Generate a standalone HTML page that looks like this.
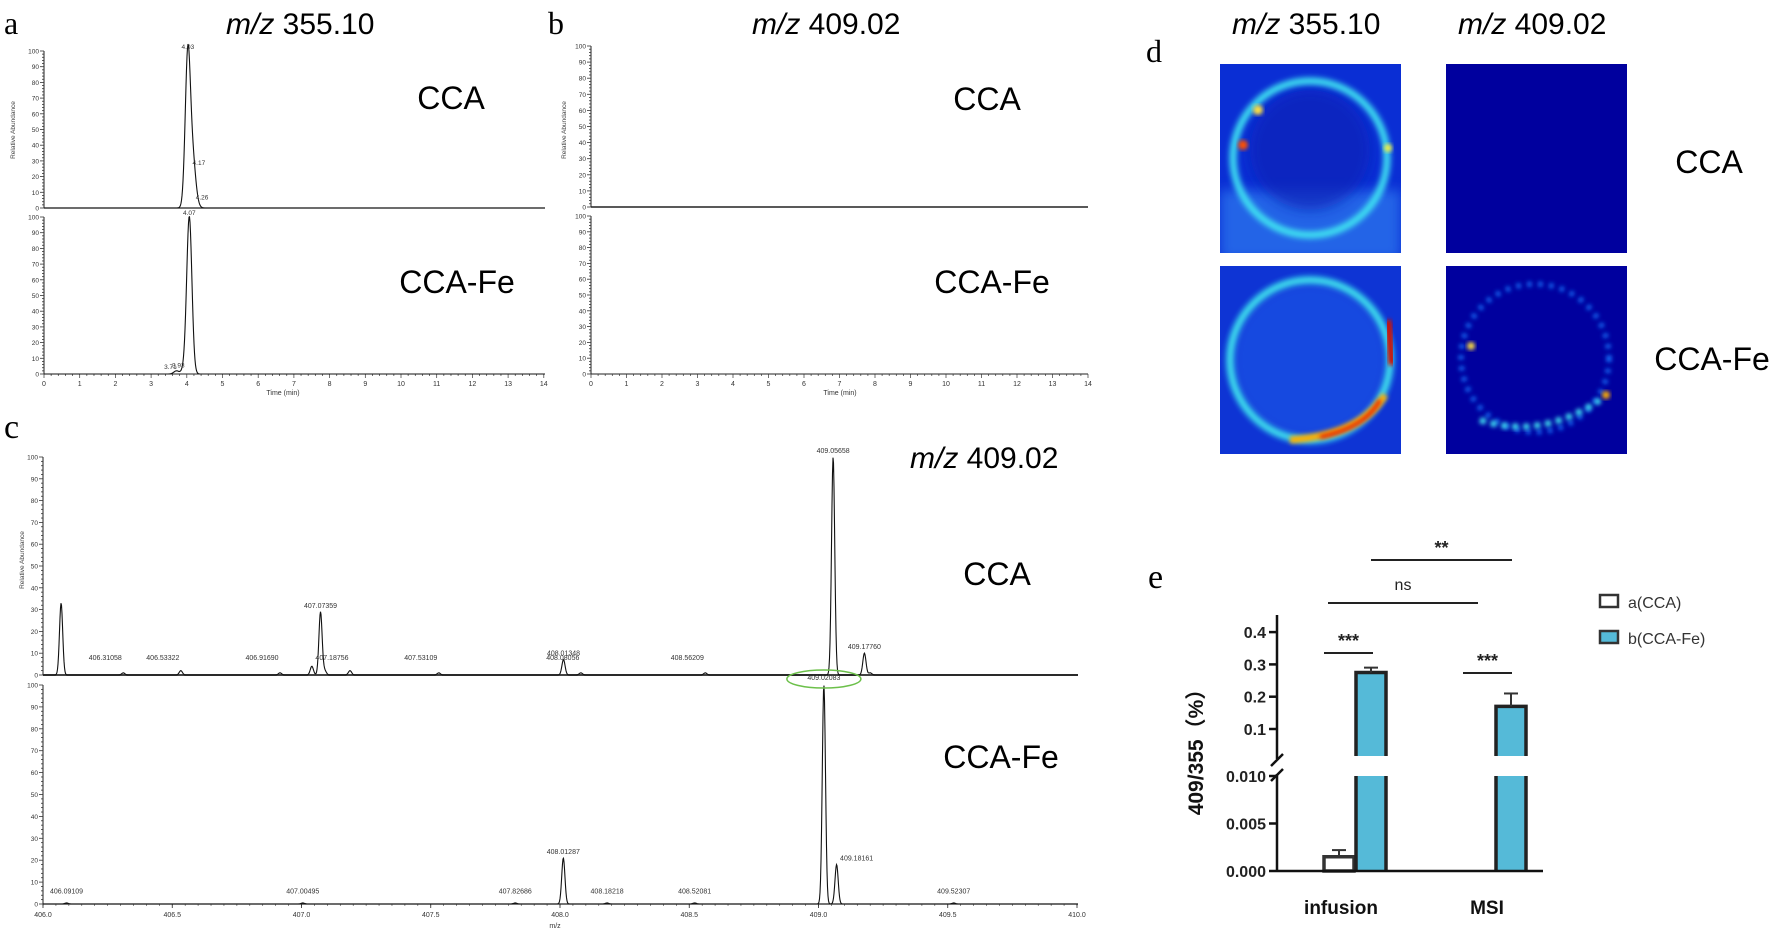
<!DOCTYPE html>
<html><head><meta charset="utf-8"><style>
html,body{margin:0;padding:0;background:#fff;}
svg{display:block;font-family:"Liberation Sans",sans-serif;}
</style></head><body>
<svg id="fig" width="1772" height="934" viewBox="0 0 1772 934" xmlns="http://www.w3.org/2000/svg">
<defs>
<filter id="b3" x="-20%" y="-20%" width="140%" height="140%"><feGaussianBlur stdDeviation="3"/></filter>
<filter id="b2" x="-20%" y="-20%" width="140%" height="140%"><feGaussianBlur stdDeviation="2"/></filter>
<filter id="b6" x="-20%" y="-20%" width="140%" height="140%"><feGaussianBlur stdDeviation="6"/></filter>
<clipPath id="c1"><rect x="1220" y="64" width="181" height="189"/></clipPath>
<clipPath id="c2"><rect x="1446" y="64" width="181" height="189"/></clipPath>
<clipPath id="c3"><rect x="1220" y="266" width="181" height="188"/></clipPath>
<clipPath id="c4"><rect x="1446" y="266" width="181" height="188"/></clipPath>
</defs>
<text x="4" y="34" font-family="Liberation Serif" font-size="32">a</text>
<text x="226" y="34" font-size="30"><tspan font-style="italic">m/z</tspan> 355.10</text>
<text x="548" y="34" font-family="Liberation Serif" font-size="32">b</text>
<text x="752" y="34" font-size="30"><tspan font-style="italic">m/z</tspan> 409.02</text>
<text x="4" y="438" font-family="Liberation Serif" font-size="34">c</text>
<text x="910" y="468" font-size="30"><tspan font-style="italic">m/z</tspan> 409.02</text>
<text x="1146" y="62" font-family="Liberation Serif" font-size="32">d</text>
<text x="1232" y="34" font-size="30"><tspan font-style="italic">m/z</tspan> 355.10</text>
<text x="1458" y="34" font-size="30"><tspan font-style="italic">m/z</tspan> 409.02</text>
<text x="1148" y="588" font-family="Liberation Serif" font-size="34">e</text>

<text x="451" y="109" font-size="32" text-anchor="middle">CCA</text>
<text x="457" y="293" font-size="32" text-anchor="middle">CCA-Fe</text>
<text x="987" y="110" font-size="32" text-anchor="middle">CCA</text>
<text x="992" y="293" font-size="32" text-anchor="middle">CCA-Fe</text>
<text x="997" y="585" font-size="32" text-anchor="middle">CCA</text>
<text x="1001" y="768" font-size="32" text-anchor="middle">CCA-Fe</text>
<text x="1709" y="173" font-size="32" text-anchor="middle">CCA</text>
<text x="1712" y="370" font-size="32" text-anchor="middle">CCA-Fe</text>

<g clip-path="url(#c1)">
<rect x="1220" y="64" width="181" height="189" fill="#0a2ed4"/>
<rect x="1220" y="190" width="181" height="70" fill="#2f7cf0" filter="url(#b6)" opacity="0.7"/>
<circle cx="1310" cy="150" r="60" fill="#0720b8" filter="url(#b6)" opacity="0.7"/>
<circle cx="1310" cy="158" r="77" fill="none" stroke="#3fe6f2" stroke-width="7" filter="url(#b3)"/>
<circle cx="1243" cy="145" r="5" fill="#ff5000" filter="url(#b2)"/>
<circle cx="1258" cy="110" r="5" fill="#ffe040" filter="url(#b2)"/>
<circle cx="1388" cy="148" r="4" fill="#f8f040" filter="url(#b2)"/>
</g>
<rect x="1446" y="64" width="181" height="189" fill="#00009e"/>
<g clip-path="url(#c3)">
<rect x="1220" y="266" width="181" height="188" fill="#0e34d4"/>
<circle cx="1310" cy="360" r="78" fill="#1848e0" filter="url(#b6)"/>
<circle cx="1310" cy="360" r="80" fill="none" stroke="#40e8ee" stroke-width="7" filter="url(#b3)"/>
<path d="M1290 440 Q1360 435 1385 395" fill="none" stroke="#ffb000" stroke-width="7" filter="url(#b2)"/>
<path d="M1320 437 Q1365 428 1380 400" fill="none" stroke="#e82000" stroke-width="4" filter="url(#b2)"/>
<path d="M1388 320 L1392 365" fill="none" stroke="#d01000" stroke-width="7" filter="url(#b2)"/>
</g>
<g clip-path="url(#c4)">
<rect x="1446" y="266" width="181" height="188" fill="#00009e"/>
<circle cx="1535" cy="358" r="74" fill="none" stroke="#1878ff" stroke-width="5" stroke-dasharray="4 7" filter="url(#b2)"/>
<path d="M1480 420 Q1540 440 1600 400" fill="none" stroke="#40e0f0" stroke-width="6" stroke-dasharray="6 5" filter="url(#b2)"/>
<path d="M1510 428 L1570 428" fill="none" stroke="#ff3000" stroke-width="3" stroke-dasharray="5 6" filter="url(#b2)"/>
<circle cx="1471" cy="346" r="4" fill="#ffe040" filter="url(#b2)"/>
<circle cx="1606" cy="395" r="4" fill="#ffb000" filter="url(#b2)"/>
</g>
<g id="dyn"></g>
</svg>
<script>
const aTopTimes = [4.03, 4.17, 4.26];
const aTopHeights = [100, 26, 4];
const aTopLabels = ["4.03", "4.17", "4.26"];
const aBotTimes = [3.71, 3.93, 4.07];
const aBotHeights = [2, 3, 100];
const aBotLabels = ["3.71", "3.93", "4.07"];
const timeTicks = [0,1,2,3,4,5,6,7,8,9,10,11,12,13,14];
const abundTicks = [0,10,20,30,40,50,60,70,80,90,100];
const cTopMz = [406.07, 406.31058, 406.53322, 406.9169, 407.04, 407.07359, 407.09, 407.18756, 407.53109, 408.01348, 408.08056, 408.56209, 409.05658, 409.1776, 409.2];
const cTopInt = [33, 1, 2, 1, 4, 29, 2, 2, 1, 7, 1, 1, 100, 10, 1];
const cTopLabels = ["", "406.31058", "406.53322", "406.91690", "", "407.07359", "", "407.18756", "407.53109", "408.01348", "408.08056", "408.56209", "409.05658", "409.17760", ""];
const cBotMz = [406.09109, 407.00495, 407.82686, 408.01287, 408.18218, 408.52081, 409.02083, 409.07, 409.52307];
const cBotInt = [0.5, 0.5, 0.5, 21, 0.5, 0.5, 100, 18, 0.5];
const cBotLabels = ["406.09109", "407.00495", "407.82686", "408.01287", "408.18218", "408.52081", "409.02083", "409.18161", "409.52307"];
const mzTicks = [406.0, 406.5, 407.0, 407.5, 408.0, 408.5, 409.0, 409.5, 410.0];
const groups = ["infusion", "MSI"];
const ccaMeans = [0.0015, 0];
const ccaErr = [0.0007, 0];
const feMeans = [0.275, 0.17];
const feErr = [0.015, 0.04];
const upperTicks = [0.1, 0.2, 0.3, 0.4];
const lowerTicks = [0.000, 0.005, 0.010];

const NS = "http://www.w3.org/2000/svg";
const root = document.getElementById("dyn");
function mk(tag, attrs, parent) {
  const e = document.createElementNS(NS, tag);
  for (const k in attrs) e.setAttribute(k, attrs[k]);
  (parent || root).appendChild(e);
  return e;
}
function txt(x, y, s, size, anchor, parent, extra) {
  const t = mk("text", Object.assign({x: x, y: y, "font-size": size, "text-anchor": anchor || "start"}, extra || {}), parent);
  t.textContent = s;
  return t;
}
function trace(name, x0, x1, xs, base, hpx, pos, ints, sigma) {
  let d = "";
  for (let px = x0; px <= x1; px += 0.5) {
    let v = 0;
    for (let i = 0; i < pos.length; i++) {
      const dx = (px - xs(pos[i])) / sigma;
      v += ints[i] * Math.exp(-0.5 * dx * dx);
    }
    const y = base - v / 100 * hpx;
    d += (d ? "L" : "M") + px.toFixed(1) + " " + y.toFixed(1);
  }
  const p = mk("path", {d: d, fill: "none", stroke: "#111", "stroke-width": 1.1});
  
  
}
function yAxis(name, x, base, hpx, labelSize) {
  const g = mk("g", {});
  
  
  mk("line", {x1: x, y1: base, x2: x, y2: base - hpx, stroke: "#222", "stroke-width": 1}, g);
  for (let v = 0; v <= 100; v += 2) {
    const y = base - v / 100 * hpx;
    mk("line", {x1: x - (v % 10 === 0 ? 4 : 2), y1: y, x2: x, y2: y, stroke: "#333", "stroke-width": 0.8}, g);
  }
  abundTicks.forEach(v => {
    txt(x - 5, base - v / 100 * hpx + 2.5, String(v), labelSize, "end", g, {fill: "#333"});
  });
}
const aX = t => 44 + t * 35.7;
const bX = t => 591 + t * 35.5;
function timeAxis(name, xs, y, labelX) {
  const g = mk("g", {});
  
  
  mk("line", {x1: xs(0), y1: y, x2: xs(14), y2: y, stroke: "#222", "stroke-width": 1}, g);
  for (let t = 0; t <= 14; t += 0.2) {
    mk("line", {x1: xs(t), y1: y, x2: xs(t), y2: y + (Math.abs(t - Math.round(t)) < 0.01 ? 4 : 2), stroke: "#333", "stroke-width": 0.7}, g);
  }
  timeTicks.forEach(t => txt(xs(t), y + 12, String(t), 7, "middle", g, {fill: "#333"}));
  txt(labelX, y + 21, "Time (min)", 7, "middle", g, {fill: "#333"});
}
yAxis("a-top-y-axis", 44, 208, 157, 6.5);
yAxis("a-bottom-y-axis", 44, 374, 157, 6.5);
mk("line", {x1: 44, y1: 208, x2: 545, y2: 208, stroke: "#222", "stroke-width": 1.2});
timeAxis("a-x-axis", aX, 374, 283);
trace("a-top-trace", 44, 545, aX, 208, 157, aTopTimes, aTopHeights, 2.6);
trace("a-bottom-trace", 44, 545, aX, 374, 157, aBotTimes, aBotHeights, 2.6);
aTopTimes.forEach((t, i) => { const e = txt(aX(t) + (i ? 6 : 0), 208 - aTopHeights[i] / 100 * 157 - 2, aTopLabels[i], 6.5, "middle", null, {fill: "#333"});   });
aBotTimes.forEach((t, i) => { const e = txt(aX(t) - (i < 2 ? 6 : 0), 374 - aBotHeights[i] / 100 * 157 - 2, aBotLabels[i], 6.5, "middle", null, {fill: "#333"});   });
const ya = txt(0, 0, "Relative Abundance", 6.5, "middle", null, {fill: "#444", transform: "translate(15,130) rotate(-90)"});


yAxis("b-top-y-axis", 591, 207, 161, 6.5);
yAxis("b-bottom-y-axis", 591, 374, 158, 6.5);
mk("line", {x1: 591, y1: 207, x2: 1088, y2: 207, stroke: "#222", "stroke-width": 1.4});
timeAxis("b-x-axis", bX, 374, 840);
const yb = txt(0, 0, "Relative Abundance", 6.5, "middle", null, {fill: "#444", transform: "translate(566,130) rotate(-90)"});


const cX = m => 43 + (m - 406) * 258.5;
yAxis("c-top-y-axis", 43, 675, 218, 6.5);
yAxis("c-bottom-y-axis", 43, 904, 219, 6.5);
mk("line", {x1: 43, y1: 675, x2: 1078, y2: 675, stroke: "#444", "stroke-width": 2});
const cxg = mk("g", {});


mk("line", {x1: 43, y1: 904, x2: 1078, y2: 904, stroke: "#222", "stroke-width": 1.2}, cxg);
for (let m = 406; m <= 410.001; m += 0.05) {
  mk("line", {x1: cX(m), y1: 904, x2: cX(m), y2: 906, stroke: "#444", "stroke-width": 0.6}, cxg);
}
mzTicks.forEach(m => {
  mk("line", {x1: cX(m), y1: 904, x2: cX(m), y2: 908, stroke: "#222", "stroke-width": 0.8}, cxg);
  txt(cX(m), 917, m.toFixed(1), 7, "middle", cxg, {fill: "#333"});
});
txt(555, 928, "m/z", 7, "middle", cxg, {fill: "#333"});
trace("c-top-trace", 43, 1078, cX, 675, 218, cTopMz, cTopInt, 1.6);
trace("c-bottom-trace", 43, 1078, cX, 904, 219, cBotMz, cBotInt, 1.6);
cTopMz.forEach((m, i) => {
  if (!cTopLabels[i]) return;
  const e = txt(cX(m) - (cTopInt[i] < 5 ? 18 : 0), 675 - Math.max(cTopInt[i], 5) / 100 * 218 - 4, cTopLabels[i], 7, "middle", null, {fill: "#333"});
  
  
});
cBotMz.forEach((m, i) => {
  const e = txt(cX(m) + (i === 7 ? 20 : 0), 904 - Math.max(cBotInt[i], 3) / 100 * 219 - 4 - (i === 6 ? 1 : 0), cBotLabels[i], 7, "middle", null, {fill: "#333"});
  
  
});
const ell = mk("ellipse", {cx: cX(409.02083), cy: 679, rx: 37, ry: 9, fill: "none", stroke: "#6cc04a", "stroke-width": 1.5});


const yc = txt(0, 0, "Relative Abundance", 6.5, "middle", null, {fill: "#444", transform: "translate(24,560) rotate(-90)"});



const eAxisX = 1277, eBase = 871;
const yL = v => eBase - v * 9500;
const yU = v => 729 - (v - 0.1) * 323;
const UPPER_START = 756, LOWER_TOP = yL(0.010);
const eg = mk("g", {});


const eAx = mk("g", {}, eg);


mk("line", {x1: eAxisX, y1: eBase, x2: eAxisX, y2: 774, stroke: "#111", "stroke-width": 2.5}, eAx);
mk("line", {x1: eAxisX, y1: 759, x2: eAxisX, y2: 615, stroke: "#111", "stroke-width": 2.5}, eAx);
mk("line", {x1: eAxisX - 6, y1: 766, x2: eAxisX + 6, y2: 754, stroke: "#111", "stroke-width": 2.5}, eAx);
mk("line", {x1: eAxisX - 6, y1: 781, x2: eAxisX + 6, y2: 769, stroke: "#111", "stroke-width": 2.5}, eAx);
mk("line", {x1: eAxisX, y1: eBase, x2: 1543, y2: eBase, stroke: "#111", "stroke-width": 2.5});
upperTicks.forEach(v => {
  mk("line", {x1: eAxisX - 8, y1: yU(v), x2: eAxisX, y2: yU(v), stroke: "#111", "stroke-width": 2.5}, eAx);
  txt(eAxisX - 11, yU(v) + 6, v.toFixed(1), 16, "end", eAx, {"font-weight": "bold", fill: "#222"});
});
lowerTicks.forEach(v => {
  mk("line", {x1: eAxisX - 8, y1: yL(v), x2: eAxisX, y2: yL(v), stroke: "#111", "stroke-width": 2.5}, eAx);
  txt(eAxisX - 11, yL(v) + 6, v.toFixed(3), 16, "end", eAx, {"font-weight": "bold", fill: "#222"});
});
const yet = txt(0, 0, "409/355（%）", 21, "middle", null, {"font-weight": "bold", fill: "#111", transform: "translate(1203,747) rotate(-90)", "font-family": "Liberation Sans, Noto Sans CJK SC, sans-serif"});



const groupCenter = [1355, 1495];
const barW = 30;
function barAt(x, v, fill, name) {
  const g = mk("g", {}, eg);
  
  
  if (v <= 0) return;
  const sw = 3.5;
  if (v <= 0.010) {
    mk("rect", {x: x, y: yL(v), width: barW, height: eBase - yL(v), fill: fill, stroke: "#333", "stroke-width": sw}, g);
  } else {
    mk("rect", {x: x, y: LOWER_TOP, width: barW, height: eBase - LOWER_TOP, fill: fill}, g);
    mk("rect", {x: x, y: yU(v), width: barW, height: UPPER_START - yU(v), fill: fill}, g);
    mk("path", {d: `M${x} ${eBase}V${LOWER_TOP}M${x + barW} ${eBase}V${LOWER_TOP}M${x} ${UPPER_START}V${yU(v)}H${x + barW}V${UPPER_START}`, fill: "none", stroke: "#222", "stroke-width": sw}, g);
  }
}
function errAt(x, v, e, yfun, name) {
  if (v <= 0) return;
  const g = mk("g", {}, eg);
  
  
  const cx = x + barW / 2;
  mk("line", {x1: cx, y1: yfun(v), x2: cx, y2: yfun(v + e), stroke: "#333", "stroke-width": 2}, g);
  mk("line", {x1: cx - 7, y1: yfun(v + e), x2: cx + 7, y2: yfun(v + e), stroke: "#333", "stroke-width": 2}, g);
}
groups.forEach((gname, i) => {
  const xc = groupCenter[i] - barW - 1, xf = groupCenter[i] + 1;
  barAt(xc, ccaMeans[i], "#ffffff", "bar-cca-" + gname);
  errAt(xc, ccaMeans[i], ccaErr[i], ccaMeans[i] <= 0.01 ? yL : yU, "err-cca-" + gname);
  barAt(xf, feMeans[i], "#55bad8", "bar-ccafe-" + gname);
  errAt(xf, feMeans[i], feErr[i], feMeans[i] <= 0.01 ? yL : yU, "err-ccafe-" + gname);
  const l = txt(groupCenter[i] - (i === 0 ? 14 : 8), 914, gname, 19, "middle", null, {"font-weight": "bold", fill: "#111"});
  
  
});
function sig(x1, x2, y, s, ty, name, size) {
  const g = mk("g", {});
  
  
  mk("line", {x1: x1, y1: y, x2: x2, y2: y, stroke: "#222", "stroke-width": 2}, g);
  txt((x1 + x2) / 2, ty, s, size, "middle", g, {fill: "#222", "font-weight": s === "ns" ? "normal" : "bold"});
}
sig(1324, 1373, 653, "***", 647, "sig-infusion", 18);
sig(1463, 1512, 673, "***", 667, "sig-msi", 18);
sig(1328, 1478, 603, "ns", 590, "sig-ns", 16);
sig(1371, 1512, 560, "**", 554, "sig-double", 18);
const lg = mk("g", {});


mk("rect", {x: 1600, y: 595, width: 18, height: 12, fill: "#fff", stroke: "#333", "stroke-width": 2.5}, lg);
txt(1628, 608, "a(CCA)", 16, "start", lg, {fill: "#333"});
mk("rect", {x: 1600, y: 631, width: 18, height: 12, fill: "#55bad8", stroke: "#333", "stroke-width": 2.5}, lg);
txt(1628, 644, "b(CCA-Fe)", 16, "start", lg, {fill: "#333"});
</script>
</body></html>
